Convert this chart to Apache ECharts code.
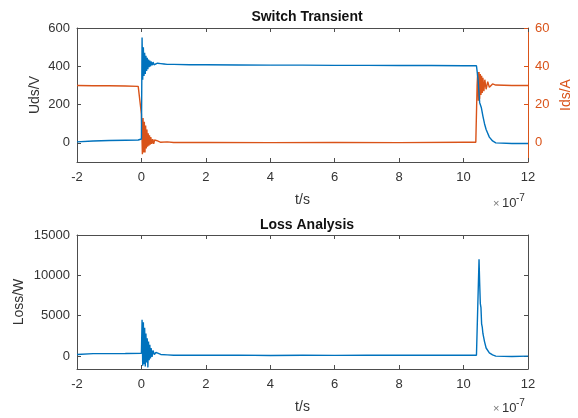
<!DOCTYPE html>
<html>
<head>
<meta charset="utf-8">
<script src="https://cdn.jsdelivr.net/npm/echarts@6/dist/echarts.min.js"></script>
<style>
  html, body { margin: 0; padding: 0; background: #fff; }
  #main { width: 578px; height: 418px; }
</style>
</head>
<body>
<div id="main"></div>
<script>
// time in units of 1e-7 s
const xTicks = [-2, 0, 2, 4, 6, 8, 10, 12];
const udsTicks = [0, 200, 400, 600];
const idsTicks = [0, 20, 40, 60];
const lossTicks = [0, 5000, 10000, 15000];

// Uds (V)
const udsT = [-2, -1.5, -1, -0.5, -0.1, 0,
  0.02, 0.04, 0.06, 0.08, 0.10, 0.12, 0.14, 0.16, 0.18, 0.20, 0.22, 0.24, 0.26, 0.28, 0.30,
  0.33, 0.36, 0.39, 0.42, 0.45,
  0.50, 0.55, 0.60, 0.70, 0.80,
  1, 1.5, 2, 3, 4, 5, 6, 7, 8, 9, 10,
  10.4, 10.45, 10.5, 10.55, 10.6, 10.65, 10.7, 10.8, 10.9, 11, 11.5, 12];
const udsV = [5, 10, 12, 14, 15, 20,
  550, 330, 500, 350, 470, 360, 455, 375, 445, 385, 435, 395, 430, 400, 425,
  405, 422, 408, 418, 410,
  416, 412, 414, 412, 410,
  410, 408, 408, 407, 406, 406, 405, 405, 404, 404, 403,
  403, 330, 210, 185, 140, 100, 70, 30, 10, 0, -3, -3];

// Ids (A)
const idsT = [-2, -1.5, -1, -0.5, -0.1, -0.05,
  0, 0.03, 0.05, 0.07, 0.09, 0.11, 0.13, 0.15, 0.17, 0.19, 0.21, 0.23, 0.25, 0.27, 0.29,
  0.32, 0.35, 0.38, 0.41, 0.45, 0.5, 0.6, 0.8, 1,
  2, 4, 6, 8, 10, 10.38,
  10.42, 10.44, 10.46, 10.48, 10.5, 10.52, 10.54, 10.56, 10.58, 10.6, 10.63, 10.66, 10.7, 10.75, 10.8, 10.9, 11, 11.5, 12];
const idsV = [30, 29.8, 29.8, 29.7, 29.5, 29,
  15, -6, 13, -5, 11, -5, 9, -3, 7, -2, 5, -1.5, 4, -1, 3,
  -0.5, 2, -0.5, 1.5, 0.5, 1, 0.3, 0.5, 0.2,
  0.2, 0.1, 0.2, 0.1, 0.3, 0.3,
  30, 37, 22, 37, 23, 36, 25, 35, 26, 34, 27, 33, 28, 32, 29, 30.8, 30.2, 30, 30];

// Loss (W)
const lossT = [-2, -1.5, -1, -0.5, 0,
  0.02, 0.04, 0.06, 0.08, 0.10, 0.12, 0.14, 0.16, 0.18, 0.20, 0.22, 0.24, 0.26, 0.28, 0.30,
  0.33, 0.36, 0.4, 0.45, 0.5, 0.6, 0.8, 1,
  2, 3, 4, 5, 6, 7, 8, 9, 10, 10.4,
  10.44, 10.48, 10.5, 10.52, 10.54, 10.56, 10.58, 10.6, 10.65, 10.7, 10.8, 10.9, 11, 11.5, 12];
const lossV = [200, 300, 300, 320, 350,
  4500, -1200, 4200, -1000, 3500, -1300, 2800, -800, 2200, -1400, 1800, -500, 1400, -300, 1000,
  -100, 700, 200, 450, 250, 200, 150, 100,
  100, 120, 80, 100, 90, 110, 100, 120, 100, 100,
  300, 12000, 9000, 6500, 6000, 4000, 3600, 2800, 1800, 1000, 400, 150, 0, -50, 0];

function pairs(t, v) {
  return t.map(function (x, i) { return [x, v[i]]; });
}

const FONT = 'Liberation Sans, Arial, Helvetica, sans-serif';
const AX = '#4d4d4d';
const TXT = '#333';
const BLUE = '#0072BD';
const ORANGE = '#D95319';

function xAx(grid, top) {
  return {
    type: 'value', gridIndex: grid, position: top ? 'top' : 'bottom',
    min: xTicks[0], max: xTicks[xTicks.length - 1], interval: 2,
    axisLine: { show: true, onZero: false, lineStyle: { color: AX } },
    axisTick: { show: true, inside: true, length: 4, lineStyle: { color: AX } },
    axisLabel: { show: !top, margin: 9, color: TXT, fontSize: 13, fontFamily: FONT },
    splitLine: { show: false },
    name: top ? '' : 't/s', nameLocation: 'middle', nameGap: 31,
    nameTextStyle: { color: TXT, fontSize: 14, fontFamily: FONT }
  };
}

function yAx(grid, right, min, max, ticks, color, name, showLabel, gap) {
  return {
    type: 'value', gridIndex: grid, position: right ? 'right' : 'left',
    min: min, max: max,
    axisLine: { show: true, onZero: false, lineStyle: { color: color } },
    axisTick: { show: true, inside: true, length: 4, customValues: ticks, lineStyle: { color: color } },
    axisLabel: { show: showLabel, customValues: ticks, margin: 7, color: right ? color : TXT,
      fontSize: 13, fontFamily: FONT, formatter: function (v) { return String(v); } },
    splitLine: { show: false },
    name: name, nameLocation: 'middle', nameGap: gap, nameRotate: 90, nameMoveOverlap: false,
    nameTextStyle: { color: right ? color : TXT, fontSize: 14, fontFamily: FONT }
  };
}

const chart = echarts.init(document.getElementById('main'));
chart.setOption({
  animation: false,
  title: [
    { text: 'Switch Transient', left: 302, top: 5, textAlign: 'center',
      textStyle: { fontSize: 14, fontWeight: 'bold', color: '#111', fontFamily: FONT } },
    { text: 'Loss Analysis', left: 302, top: 213, textAlign: 'center',
      textStyle: { fontSize: 14, fontWeight: 'bold', color: '#111', fontFamily: FONT } }
  ],
  grid: [
    { left: 77, right: 50, top: 28, height: 134, outerBoundsMode: 'none' },
    { left: 77, right: 50, top: 235, height: 134, outerBoundsMode: 'none' }
  ],
  xAxis: [xAx(0, false), xAx(0, true), xAx(1, false), xAx(1, true)],
  yAxis: [
    yAx(0, false, -100, 600, udsTicks, AX, 'Uds/V', true, 35),
    yAx(0, true, -10, 60, idsTicks, ORANGE, 'Ids/A', true, 31),
    yAx(1, false, -1600, 15000, lossTicks, AX, 'Loss/W', true, 51),
    yAx(1, true, -1600, 15000, lossTicks, AX, '', false, 20)
  ],
  series: [
    { type: 'line', xAxisIndex: 0, yAxisIndex: 1, data: pairs(idsT, idsV),
      showSymbol: false, lineStyle: { color: ORANGE, width: 1.4 }, itemStyle: { color: ORANGE } },
    { type: 'line', xAxisIndex: 0, yAxisIndex: 0, data: pairs(udsT, udsV),
      showSymbol: false, lineStyle: { color: BLUE, width: 1.4 }, itemStyle: { color: BLUE } },
    { type: 'line', xAxisIndex: 2, yAxisIndex: 2, data: pairs(lossT, lossV),
      showSymbol: false, lineStyle: { color: BLUE, width: 1.4 }, itemStyle: { color: BLUE } }
  ],
  // x10^-7 exponent labels
  graphic: [
    { type: 'text', x: 493, y: 209, style: { text: '×', fontSize: 11, fill: '#777', fontFamily: FONT, verticalAlign: 'bottom' } },
    { type: 'text', x: 502, y: 210, style: { text: '10', fontSize: 13, fill: TXT, fontFamily: FONT, verticalAlign: 'bottom' } },
    { type: 'text', x: 516, y: 203, style: { text: '-7', fontSize: 10, fill: TXT, fontFamily: FONT, verticalAlign: 'bottom' } },
    { type: 'text', x: 493, y: 414, style: { text: '×', fontSize: 11, fill: '#777', fontFamily: FONT, verticalAlign: 'bottom' } },
    { type: 'text', x: 502, y: 415, style: { text: '10', fontSize: 13, fill: TXT, fontFamily: FONT, verticalAlign: 'bottom' } },
    { type: 'text', x: 516, y: 408, style: { text: '-7', fontSize: 10, fill: TXT, fontFamily: FONT, verticalAlign: 'bottom' } }
  ]
});
</script>
</body>
</html>
